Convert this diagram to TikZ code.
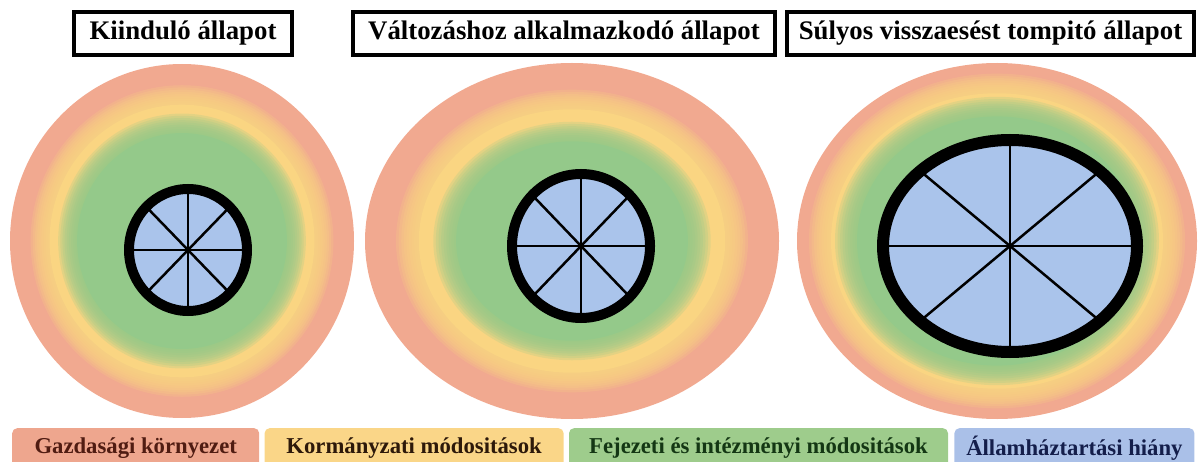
\documentclass[tikz,border=0pt]{standalone}
\usepackage{fontspec}
\setmainfont{Liberation Serif}
\usepackage{xcolor}
\usetikzlibrary{positioning,shapes.geometric}
\definecolor{RingSalmon}{RGB}{241,169,144}
\definecolor{RingYellow}{RGB}{250,213,130}
\definecolor{RingGreen}{RGB}{148,201,138}
\definecolor{HoleBlue}{RGB}{170,196,235}
\definecolor{KeySalmon}{RGB}{238,166,142}
\definecolor{KeyYellow}{RGB}{250,214,136}
\definecolor{KeyGreen}{RGB}{158,204,140}
\definecolor{KeyBlue}{RGB}{170,192,232}
\definecolor{InkBrown}{RGB}{80,28,18}
\definecolor{InkDark}{RGB}{45,25,10}
\definecolor{InkGreen}{RGB}{20,55,20}
\definecolor{InkBlue}{RGB}{20,30,75}
\tikzset{
  tbox/.style={draw=black,fill=white,line width=4pt,minimum height=43pt,
               inner sep=0pt,font=\fontsize{26.8pt}{30pt}\selectfont\bfseries},
  kbox/.style={rounded corners=5pt,minimum height=40pt,inner sep=0pt,
               font=\fontsize{22.7pt}{26pt}\selectfont\bfseries},
  spoke/.style={black,line width=2.5pt},
  haze/.style={fill=#1,opacity=0.22},
}
% center x, center y, x radius, y radius, yellow edge, green edge
\newcommand{\ringbands}[6]{%
  \fill[RingSalmon] (#1,#2) ellipse [x radius=#3,y radius=#4];
  \foreach \f in {0.05,0.0375,0.025,0.0125,0,-0.0125,-0.025,-0.0375,-0.05}
    \fill[haze=RingYellow] (#1,#2) ellipse [x radius={(#5+\f)*#3},y radius={(#5+\f)*#4}];
  \fill[RingYellow] (#1,#2) ellipse [x radius={(#5-0.06)*#3},y radius={(#5-0.06)*#4}];
  \foreach \f in {0.05,0.0375,0.025,0.0125,0,-0.0125,-0.025,-0.0375,-0.05}
    \fill[haze=RingGreen] (#1,#2) ellipse [x radius={(#6+\f)*#3},y radius={(#6+\f)*#4}];
  \fill[RingGreen] (#1,#2) ellipse [x radius={(#6-0.06)*#3},y radius={(#6-0.06)*#4}];
}
\begin{document}
\begin{tikzpicture}[x=1pt,y=-1pt]
  \useasboundingbox (0,0) rectangle (1198,462);
  \ringbands{182}{241}{172}{177}{0.83}{0.67}
  \ringbands{572}{241}{207}{178}{0.80}{0.62}
  \ringbands{997}{241}{200}{178}{0.89}{0.76}
  \foreach \cx/\cy/\rx/\ry/\w in {188/250/59/61/10,581/246/69/72/10,1010/246/127/106/12}{
    \fill[HoleBlue] (\cx,\cy) ellipse [x radius=\rx,y radius=\ry];
    \foreach \a in {0,45,...,315}
      \draw[spoke] (\cx,\cy) -- ++({\rx*cos(\a)},{\ry*sin(\a)});
    \draw[line width=\w pt] (\cx,\cy) ellipse [x radius=\rx,y radius=\ry];
  }
  \node[tbox,minimum width=218pt] (kiindulo) at (183,33.5) {Kiinduló állapot};
  \node[tbox,minimum width=422pt] (valtozas) at (564,33.5) {Változáshoz alkalmazkodó állapot};
  \node[tbox,minimum width=407pt] (sulyos) at (990.5,33.5) {Súlyos visszaesést tompitó állapot};
  \node[kbox,fill=KeySalmon,text=InkBrown,minimum width=247pt,anchor=north west] (gazd) at (12,428) {Gazdasági környezet};
  \node[kbox,fill=KeyYellow,text=InkDark,minimum width=299pt,right=5pt of gazd] (korm) {Kormányzati módositások};
  \node[kbox,fill=KeyGreen,text=InkGreen,minimum width=379pt,right=5pt of korm] (fej) {Fejezeti és intézményi módositások};
  \node[kbox,fill=KeyBlue,text=InkBlue,minimum width=240pt,right=6pt of fej] (allam) {Államháztartási hiány};
\end{tikzpicture}
\end{document}
